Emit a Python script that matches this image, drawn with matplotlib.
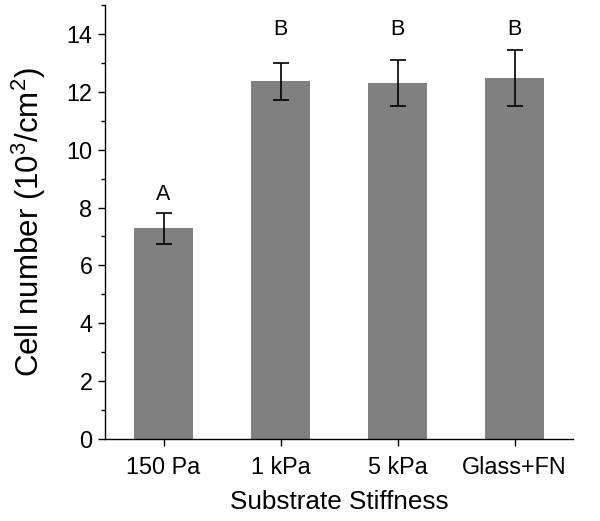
import matplotlib
matplotlib.use('Agg')
import matplotlib.pyplot as plt
from matplotlib.ticker import MultipleLocator

# data
substrates = ['150 Pa', '1 kPa', '5 kPa', 'Glass+FN']
cell_number = [7.28, 12.37, 12.30, 12.47]
cell_err = [0.53, 0.64, 0.79, 0.97]
groups = ['A', 'B', 'B', 'B']
group_y = [8.45, 14.17, 14.17, 14.17]

plt.rcParams['font.family'] = ['Liberation Sans', 'DejaVu Sans']
plt.rcParams['mathtext.fontset'] = 'custom'
plt.rcParams['mathtext.rm'] = 'Liberation Sans'

fig = plt.figure(figsize=(6, 5.21), dpi=100, facecolor='white')
ax = fig.add_axes([0.175, 0.1574, 0.78, 0.833])

x = list(range(1, len(substrates) + 1))
ax.bar(x, cell_number, width=0.51, color='#808080', edgecolor='none', zorder=1)
ax.errorbar(x, cell_number, yerr=cell_err, fmt='none', ecolor='black',
            elinewidth=1.2, capsize=5.5, capthick=1.2, zorder=2)

for xi, g, gy in zip(x, groups, group_y):
    ax.text(xi, gy, g, ha='center', va='center', fontsize=15.5)

ax.set_xlim(0.5, 4.5)
ax.set_ylim(0, 15)
ax.set_xticks(x)
ax.set_xticklabels(substrates)
ax.yaxis.set_major_locator(MultipleLocator(2))
ax.yaxis.set_minor_locator(MultipleLocator(1))

for s in ['top', 'right']:
    ax.spines[s].set_visible(False)
for s in ['left', 'bottom']:
    ax.spines[s].set_linewidth(1.0)

ax.tick_params(axis='both', which='major', direction='out', length=5,
               width=1.0, labelsize=16.8)
ax.tick_params(axis='y', which='minor', direction='out', length=3, width=1.0)
ax.tick_params(axis='x', which='major', pad=7)
ax.tick_params(axis='y', which='major', pad=4)

ax.set_xlabel('Substrate Stiffness', fontsize=18.8, labelpad=8)
ax.set_ylabel('Cell number (10$^\\mathrm{3}$/cm$^\\mathrm{2}$)', fontsize=22.5, labelpad=13)

plt.savefig('out.png', dpi=100, facecolor='white')
